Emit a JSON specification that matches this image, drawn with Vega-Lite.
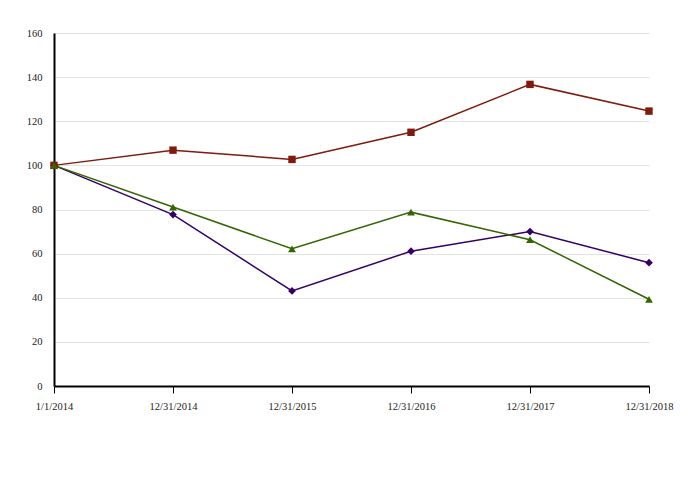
{
  "$schema": "https://vega.github.io/schema/vega-lite/v6.json",
  "width": 595,
  "height": 353,
  "autosize": "none",
  "padding": {"left": 54, "top": 33, "right": 33, "bottom": 94},
  "background": "white",
  "data": {
    "values": [
      {"series": "Newpark Resources, Inc.", "date": "1/1/2014", "value": 100},
      {"series": "Newpark Resources, Inc.", "date": "12/31/2014", "value": 77.7},
      {"series": "Newpark Resources, Inc.", "date": "12/31/2015", "value": 43.1},
      {"series": "Newpark Resources, Inc.", "date": "12/31/2016", "value": 61.1},
      {"series": "Newpark Resources, Inc.", "date": "12/31/2017", "value": 70.0},
      {"series": "Newpark Resources, Inc.", "date": "12/31/2018", "value": 55.9},
      {"series": "NYSE Composite Index", "date": "1/1/2014", "value": 100},
      {"series": "NYSE Composite Index", "date": "12/31/2014", "value": 106.9},
      {"series": "NYSE Composite Index", "date": "12/31/2015", "value": 102.7},
      {"series": "NYSE Composite Index", "date": "12/31/2016", "value": 115.0},
      {"series": "NYSE Composite Index", "date": "12/31/2017", "value": 136.7},
      {"series": "NYSE Composite Index", "date": "12/31/2018", "value": 124.6},
      {"series": "Morningstar O&G Equipment & Services", "date": "1/1/2014", "value": 100},
      {"series": "Morningstar O&G Equipment & Services", "date": "12/31/2014", "value": 81.1},
      {"series": "Morningstar O&G Equipment & Services", "date": "12/31/2015", "value": 62.2},
      {"series": "Morningstar O&G Equipment & Services", "date": "12/31/2016", "value": 78.8},
      {"series": "Morningstar O&G Equipment & Services", "date": "12/31/2017", "value": 66.3},
      {"series": "Morningstar O&G Equipment & Services", "date": "12/31/2018", "value": 39.3}
    ]
  },
  "encoding": {
    "x": {
      "field": "date",
      "type": "ordinal",
      "sort": ["1/1/2014", "12/31/2014", "12/31/2015", "12/31/2016", "12/31/2017", "12/31/2018"],
      "scale": {"type": "point", "padding": 0},
      "axis": {
        "title": null,
        "labelAngle": 0,
        "grid": false,
        "domainColor": "black",
        "domainWidth": 2,
        "tickColor": "black",
        "tickWidth": 1,
        "tickSize": 7,
        "labelPadding": 8
      }
    },
    "y": {
      "field": "value",
      "type": "quantitative",
      "scale": {"domain": [0, 160], "nice": false},
      "axis": {
        "title": null,
        "values": [0, 20, 40, 60, 80, 100, 120, 140, 160],
        "grid": true,
        "gridColor": "#e3e3e3",
        "gridWidth": 1,
        "domainColor": "black",
        "domainWidth": 2,
        "ticks": false,
        "labelPadding": 12
      }
    }
  },
  "layer": [
    {
      "mark": {"type": "line", "strokeWidth": 1.5},
      "encoding": {
        "color": {
          "field": "series",
          "type": "nominal",
          "scale": {
            "domain": ["Newpark Resources, Inc.", "NYSE Composite Index", "Morningstar O&G Equipment & Services"],
            "range": ["#330066", "#7f1a0c", "#336600"]
          },
          "legend": null
        }
      }
    },
    {
      "transform": [{"filter": "datum.series === 'Newpark Resources, Inc.'"}],
      "mark": {"type": "point", "filled": true, "opacity": 1, "shape": "diamond", "size": 60},
      "encoding": {
        "color": {"field": "series", "type": "nominal", "legend": null}
      }
    },
    {
      "transform": [{"filter": "datum.series === 'NYSE Composite Index'"}],
      "mark": {"type": "point", "filled": true, "opacity": 1, "shape": "square", "size": 55},
      "encoding": {
        "color": {"field": "series", "type": "nominal", "legend": null}
      }
    },
    {
      "transform": [{"filter": "datum.series === 'Morningstar O&G Equipment & Services'"}],
      "mark": {"type": "point", "filled": true, "opacity": 1, "shape": "triangle-up", "size": 60},
      "encoding": {
        "color": {"field": "series", "type": "nominal", "legend": null}
      }
    },
    {
      "transform": [{"filter": "false"}],
      "mark": {"type": "point", "filled": false, "opacity": 1, "strokeWidth": 1.5},
      "encoding": {
        "color": {
          "field": "series",
          "type": "nominal",
          "legend": {
            "title": null,
            "orient": "none",
            "legendX": -18,
            "legendY": 394,
            "direction": "horizontal",
            "columns": 3,
            "gridAlign": "each",
            "columnPadding": 61,
            "padding": 13,
            "strokeColor": "black",
            "symbolSize": 1764,
            "symbolStrokeWidth": 1.5,
            "clipHeight": 13,
            "labelOffset": 8,
            "labelFontSize": 8,
            "labelColor": "#222222",
            "labelLimit": 300
          }
        },
        "shape": {
          "field": "series",
          "type": "nominal",
          "scale": {
            "domain": ["Newpark Resources, Inc.", "NYSE Composite Index", "Morningstar O&G Equipment & Services"],
            "range": [
              "M-1,0H1M0,-0.26L0.21,0L0,0.26L-0.21,0ZM0,-0.19L0.15,0L0,0.19L-0.15,0ZM0,-0.11L0.09,0L0,0.11L-0.09,0ZM0,-0.04L0.03,0L0,0.04L-0.03,0Z",
              "M-1,0H1M-0.15,-0.15H0.15V0.15H-0.15ZM-0.09,-0.09H0.09V0.09H-0.09ZM-0.03,-0.03H0.03V0.03H-0.03Z",
              "M-1,0H1M0,-0.25L0.22,0.15L-0.22,0.15ZM0,-0.158L0.145,0.106L-0.145,0.106ZM0,-0.068L0.073,0.063L-0.073,0.063Z"
            ]
          },
          "legend": {
            "title": null,
            "orient": "none",
            "legendX": -18,
            "legendY": 394,
            "direction": "horizontal",
            "columns": 3,
            "gridAlign": "each",
            "columnPadding": 61,
            "padding": 13,
            "strokeColor": "black",
            "symbolSize": 1764,
            "symbolStrokeWidth": 1.5,
            "clipHeight": 13,
            "labelOffset": 8,
            "labelFontSize": 8,
            "labelColor": "#222222",
            "labelLimit": 300
          }
        }
      }
    }
  ],
  "config": {
    "font": "Liberation Serif, Times New Roman, serif",
    "view": {"stroke": null},
    "axis": {
      "labelFont": "Liberation Serif, Times New Roman, serif",
      "labelFontSize": 10.5,
      "labelColor": "#222222"
    },
    "legend": {
      "labelFont": "Liberation Serif, Times New Roman, serif",
      "titleFont": "Liberation Serif, Times New Roman, serif",
      "strokeWidth": 2
    }
  }
}
